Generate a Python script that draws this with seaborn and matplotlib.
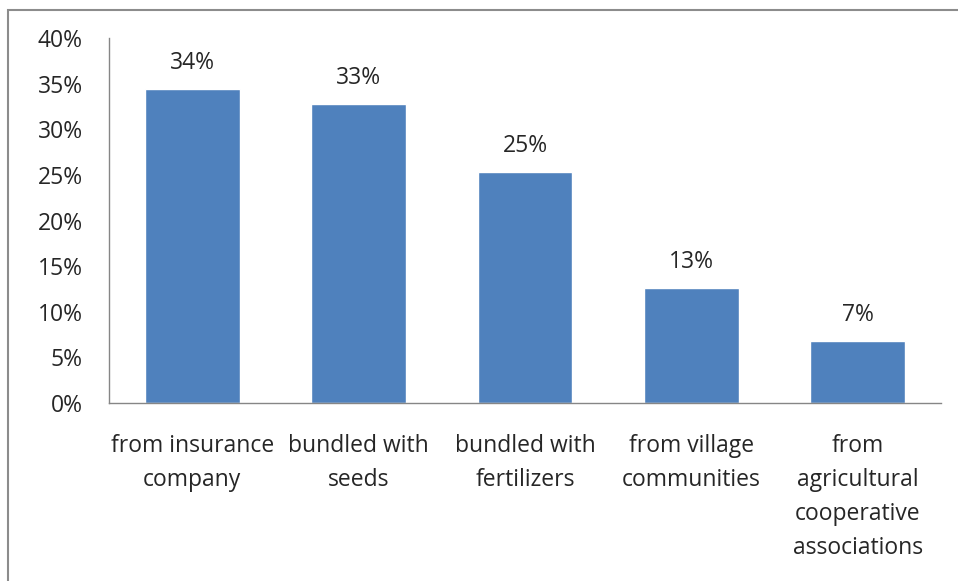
import matplotlib
matplotlib.use("Agg")
import matplotlib.pyplot as plt
import seaborn as sns
import pandas as pd
from matplotlib.patches import Rectangle
from matplotlib.ticker import FuncFormatter

categories = ["from insurance\ncompany", "bundled with\nseeds", "bundled with\nfertilizers",
              "from village\ncommunities", "from\nagricultural\ncooperative\nassociations"]
values = [34.4, 32.8, 25.3, 12.6, 6.8]
labels = ["34%", "33%", "25%", "13%", "7%"]
yticks = [0, 5, 10, 15, 20, 25, 30, 35, 40]

sns.set_theme(style="white")
plt.rcParams['font.family'] = ['Open Sans', 'DejaVu Sans']

df = pd.DataFrame({"cat": categories, "val": values})
W, H = 958, 581
fig = plt.figure(figsize=(W / 100, H / 100), dpi=100)
fig.patch.set_facecolor("white")
ax = fig.add_axes([109 / W, 1 - 403 / H, (941 - 109) / W, (403 - 38) / H])
sns.barplot(data=df, x="cat", y="val", color="#4F81BD", width=0.57, saturation=1, ax=ax)

FS = 16.5
ax.set_ylim(0, 40)
ax.set_yticks(yticks)
ax.yaxis.set_major_formatter(FuncFormatter(lambda v, p: f"{int(v)}%"))
ax.set_xlabel("")
ax.set_ylabel("")
for s in ["top", "right"]:
    ax.spines[s].set_visible(False)
for s in ["left", "bottom"]:
    ax.spines[s].set_color("#868686")
    ax.spines[s].set_linewidth(1.0)
ax.tick_params(axis="y", length=0, pad=19, labelsize=FS, labelcolor="#262626")
ax.tick_params(axis="x", length=0, pad=22.5, labelsize=FS, labelcolor="#262626")
for t in ax.get_xticklabels():
    t.set_linespacing(1.55)
    t.set_verticalalignment("top")

for p, lab in zip(ax.patches, labels):
    ax.annotate(lab, (p.get_x() + p.get_width() / 2, p.get_height()),
                xytext=(0, 26), textcoords="offset pixels", ha="center", va="center",
                fontsize=FS, color="#262626")

fig.patches.append(Rectangle((8 / W, -0.1), 1.2, 1 - 10 / H + 0.1, transform=fig.transFigure,
                             fill=False, edgecolor="#8c8c8c", linewidth=1.5, figure=fig))

fig.savefig("out.png", dpi=100, facecolor="white")
